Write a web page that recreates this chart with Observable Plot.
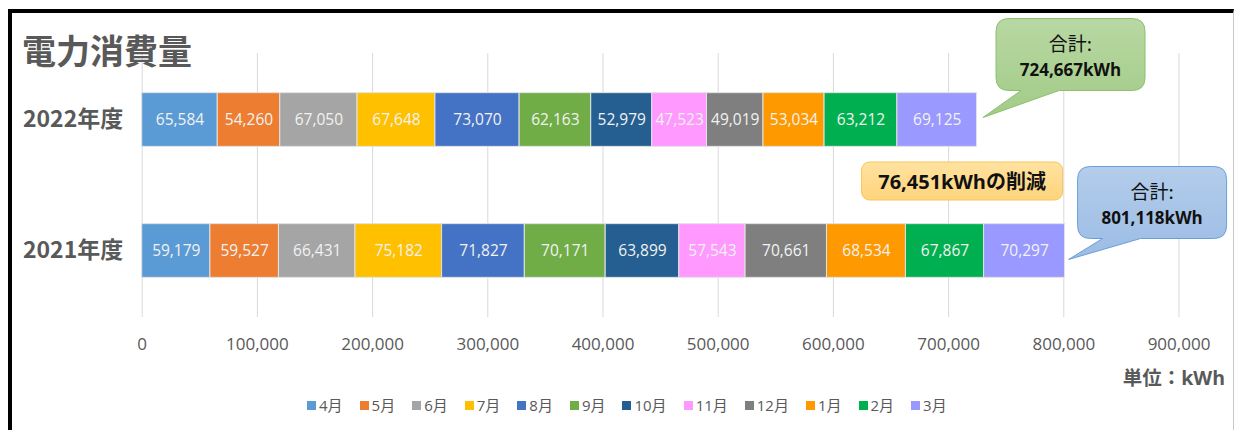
<!DOCTYPE html>
<html>
<head>
<meta charset="utf-8">
<script src="https://cdn.jsdelivr.net/npm/d3@7"></script>
<script src="https://cdn.jsdelivr.net/npm/@observablehq/plot@0.6"></script>
<style>
  html, body { margin: 0; padding: 0; background: #fff; }
  #wrap { position: relative; width: 1236px; height: 430px; overflow: hidden; background: #fff; }
  #chart { position: absolute; left: 0; top: 0; }
  #frame { position: absolute; left: 8px; top: 9px; width: 1226px; height: 500px; box-sizing: border-box;
           border-left: 4px solid #000; border-top: 4px solid #000; border-right: 1px solid #c8c8c8; pointer-events: none; }
  #title { position: absolute; left: 22px; top: 33px; font: bold 34px/34px "Noto Sans CJK JP", sans-serif; color: #595959; white-space: nowrap; }
  #unit { position: absolute; right: 11px; top: 366px; font: bold 19.5px/24px "Open Sans", "Noto Sans CJK JP", sans-serif; color: #595959; white-space: nowrap; }
  #legend { position: absolute; left: 307px; top: 396px; display: flex; align-items: center; font: 15px/18px "Open Sans", "Noto Sans CJK JP", sans-serif; color: #595959; white-space: nowrap; }
  #legend .item { display: flex; align-items: center; margin-right: 17px; }
  #legend .item:last-child { margin-right: 0; }
  #legend .sw { width: 9px; height: 9px; margin-right: 3px; }
</style>
</head>
<body>
<div id="wrap">
  <div id="chart"></div>
  <div id="title">電力消費量</div>
  <div id="unit">単位：kWh</div>
  <div id="legend"></div>
  <div id="frame"></div>
</div>
<script>
// ---- data ----
const months = ["4月","5月","6月","7月","8月","9月","10月","11月","12月","1月","2月","3月"];
const years = ["2022年度","2021年度"];
const values2022 = [65584, 54260, 67050, 67648, 73070, 62163, 52979, 47523, 49019, 53034, 63212, 69125];
const values2021 = [59179, 59527, 66431, 75182, 71827, 70171, 63899, 57543, 70661, 68534, 67867, 70297];
const monthColors = ["#5b9bd5","#ed7d31","#a5a5a5","#ffc000","#4472c4","#70ad47","#255e91","#ff99ff","#7f7f7f","#ff9900","#00b050","#9999ff"];
const xTicks = [0,100000,200000,300000,400000,500000,600000,700000,800000,900000];

// ---- table ----
const seriesByYear = {"2022年度": values2022, "2021年度": values2021};
const rows = [];
for (const yr of years) seriesByYear[yr].forEach((v, i) => rows.push({year: yr, month: months[i], value: v}));
const totals = years.map(yr => ({year: yr, total: d3.sum(seriesByYear[yr])}));
const fmt = d3.format(",");

const chart = Plot.plot({
  width: 1236,
  height: 430,
  marginLeft: 141.7,
  marginRight: 57.5,
  marginTop: 53,
  marginBottom: 113,
  style: {background: "transparent", fontFamily: "'Open Sans', 'Noto Sans CJK JP', sans-serif", overflow: "visible"},
  x: {domain: [0, 900000], label: null},
  y: {domain: years, paddingInner: 0.59, paddingOuter: 0.3027, round: false, label: null},
  color: {domain: months, range: monthColors},
  marks: [
    Plot.gridX(xTicks, {stroke: "#d9d9d9", strokeOpacity: 1, strokeWidth: 1}),
    Plot.axisX(xTicks, {tickSize: 0, tickPadding: 20, tickFormat: fmt, fontSize: 17, color: "#595959", label: null}),
    Plot.axisY({tickSize: 0, tickPadding: 19, fontSize: 23, fontWeight: "bold", color: "#595959",
                fontFamily: "'Noto Sans CJK JP', sans-serif", label: null}),
    Plot.barX(rows, Plot.stackX({x: "value", y: "year", fill: "month", stroke: "#e3e3e3", strokeWidth: 1, order: null})),
    Plot.text(rows, Plot.stackX({x: "value", y: "year", z: "month", text: d => fmt(d.value), fill: "#f2f2f2", fontSize: 15.5, order: null}))
  ]
});
document.getElementById("chart").appendChild(chart);

// ---- legend ----
const legend = d3.select("#legend");
months.forEach((m, i) => {
  const it = legend.append("div").attr("class", "item");
  it.append("div").attr("class", "sw").style("background", monthColors[i]);
  it.append("span").text(m);
});

// ---- annotations (callouts) ----
const xs = chart.scale("x"), ys = chart.scale("y");
const bw = ys.bandwidth;
const yc = yr => ys.apply(yr) + bw / 2;
const svg = d3.select(chart);
const defs = svg.append("defs");
function grad(id, c0, c1) {
  const g = defs.append("linearGradient").attr("id", id).attr("x1", 0).attr("y1", 0).attr("x2", 0).attr("y2", 1);
  g.append("stop").attr("offset", "0%").attr("stop-color", c0);
  g.append("stop").attr("offset", "100%").attr("stop-color", c1);
}
grad("gGreen", "#b8d8a3", "#a2cb87");
grad("gBlue", "#b3cdeb", "#9cbce5");
grad("gOrange", "#ffe2a0", "#ffd47c");

const callouts = [
  {year: "2022年度", fill: "url(#gGreen)", stroke: "#8cc06c", tx: 6.5, ty: -2, dx: 13, dy: -99},
  {year: "2021年度", fill: "url(#gBlue)", stroke: "#6a9fd6", tx: 4, ty: 9, dx: 9, dy: -93}
];
const g = svg.append("g");
callouts.forEach(c => {
  const t = totals.find(d => d.year === c.year).total;
  const tipX = xs.apply(t) + c.tx, tipY = yc(c.year) + c.ty;
  const x0 = tipX + c.dx, y0 = tipY + c.dy, w = 149, h = 72, r = 13;
  const x1 = x0 + w, y1 = y0 + h;
  const ta = x0 + 25, tb = x0 + 63;
  const p = d3.path();
  p.moveTo(x0 + r, y0);
  p.lineTo(x1 - r, y0); p.quadraticCurveTo(x1, y0, x1, y0 + r);
  p.lineTo(x1, y1 - r); p.quadraticCurveTo(x1, y1, x1 - r, y1);
  p.lineTo(tb, y1); p.lineTo(tipX, tipY); p.lineTo(ta, y1);
  p.lineTo(x0 + r, y1); p.quadraticCurveTo(x0, y1, x0, y1 - r);
  p.lineTo(x0, y0 + r); p.quadraticCurveTo(x0, y0, x0 + r, y0);
  p.closePath();
  g.append("path").attr("d", p.toString()).attr("fill", c.fill).attr("stroke", c.stroke).attr("stroke-width", 1);
  g.append("text").attr("x", x0 + w / 2).attr("y", y0 + 24).attr("text-anchor", "middle").attr("dominant-baseline", "central")
    .style("font", "19px 'Noto Sans CJK JP', sans-serif").attr("fill", "#111").text("合計:");
  g.append("text").attr("x", x0 + w / 2).attr("y", y0 + 51).attr("text-anchor", "middle").attr("dominant-baseline", "central")
    .style("font", "bold 17px 'Open Sans', sans-serif").attr("fill", "#111").text(fmt(t) + "kWh");
});

// difference box
const diff = totals[1].total - totals[0].total;
const bx1 = xs.apply(totals[1].total) - 2, bw2 = 201, bh = 38;
const bcy = (yc(years[0]) + yc(years[1])) / 2 - 4;
g.append("rect").attr("x", bx1 - bw2).attr("y", bcy - bh / 2).attr("width", bw2).attr("height", bh).attr("rx", 8)
  .attr("fill", "url(#gOrange)").attr("stroke", "#f8c65a").attr("stroke-width", 1);
g.append("text").attr("x", bx1 - bw2 / 2).attr("y", bcy).attr("text-anchor", "middle").attr("dominant-baseline", "central")
  .style("font", "bold 20px 'Open Sans', 'Noto Sans CJK JP', sans-serif").attr("fill", "#111").text(fmt(diff) + "kWhの削減");
</script>
</body>
</html>
